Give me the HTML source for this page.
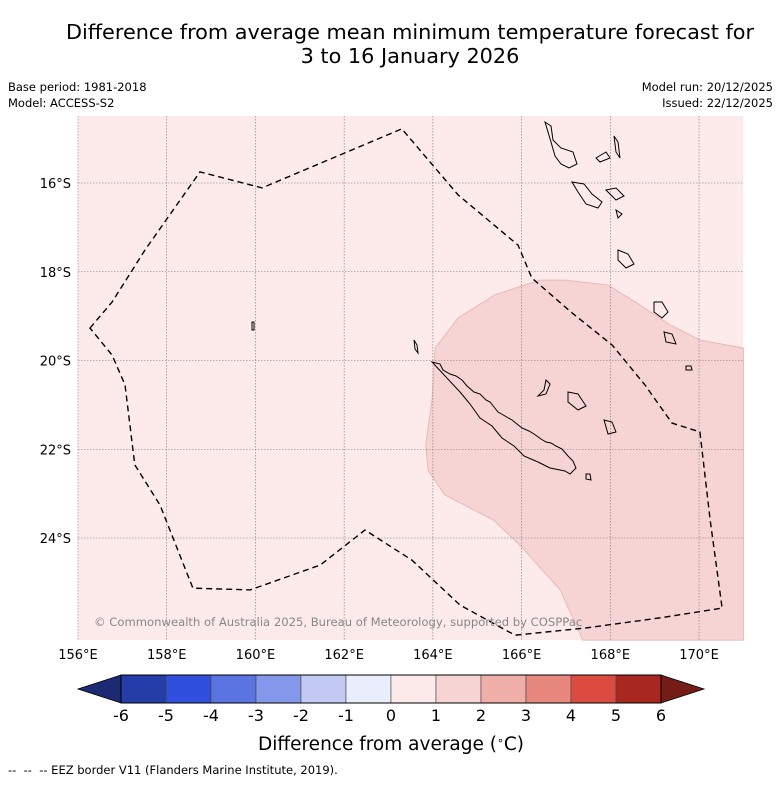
<!DOCTYPE html>
<html><head><meta charset="utf-8"><style>
body{margin:0;background:#fff;font-family:"Liberation Sans","DejaVu Sans",sans-serif}
svg text{font-family:"DejaVu Sans","Liberation Sans",sans-serif}
</style></head><body>
<svg id="c" width="781" height="781" viewBox="0 0 781 781">
<text x="410" y="39" font-size="20.8" text-anchor="middle">Difference from average mean minimum temperature forecast for</text>
<text x="410" y="63" font-size="20.8" text-anchor="middle">3 to 16 January 2026</text>
<text x="8" y="91" font-size="11.5">Base period: 1981-2018</text>
<text x="8" y="107" font-size="11.5">Model: ACCESS-S2</text>
<text x="773" y="91" font-size="11.5" text-anchor="end">Model run: 20/12/2025</text>
<text x="773" y="107" font-size="11.5" text-anchor="end">Issued: 22/12/2025</text>
<g id="map"></g>
<g id="cb"></g>
<text x="391" y="750" font-size="18.5" text-anchor="middle">Difference from average (<tspan baseline-shift="super" font-size="11">∘</tspan>C)</text>
<text x="8" y="774" font-size="11.5" xml:space="preserve" style="white-space:pre">--  --  -- EEZ border V11 (Flanders Marine Institute, 2019).</text>
</svg>
<script>
const lonTicks=[156,158,160,162,164,166,168,170];
const latTicks=[16,18,20,22,24];
const levels=[-6,-5,-4,-3,-2,-1,0,1,2,3,4,5,6];
const levelColors=["#253da8","#2f4fdc","#5a75e2","#8398ea","#c2caf3","#eaedfb","#fcebea","#f6d4d4","#efaea8","#e8877e","#dc4b40","#a8281f"];
const eezLon=[156.27,156.77,157.51,158.75,160.15,163.30,164.57,165.92,166.23,167.14,168.04,168.78,169.39,170.02,170.25,170.52,169.12,167.43,165.85,164.61,163.53,162.47,161.46,159.88,158.59,157.85,157.28,157.06,156.77];
const eezLat=[19.27,18.68,17.51,15.75,16.11,14.78,16.27,17.40,18.14,18.93,19.65,20.55,21.41,21.61,23.59,25.58,25.80,26.03,26.19,25.51,24.50,23.82,24.61,25.17,25.13,23.26,22.35,20.55,19.88];
const patchLon=[164.05,164.57,165.40,166.41,166.98,167.95,168.67,169.35,170.02,171,171,167.38,166.87,165.96,165.36,164.27,163.89,163.84,163.98];
const patchLat=[19.72,19.04,18.52,18.19,18.19,18.30,18.75,19.20,19.54,19.72,26.3,26.3,25.17,24.16,23.59,23.03,22.47,21.90,20.89];
const X0=78,X1=743,Y0=116,Y1=640;
const xs=l=>78+(l-156)*44.36, ys=l=>183+(l-16)*44.375;
const NS="http://www.w3.org/2000/svg";
function mk(t,a,p){const e=document.createElementNS(NS,t);for(const k in a)e.setAttribute(k,a[k]);p.appendChild(e);return e;}
const map=document.getElementById('map');
let r=mk('rect',{x:X0,y:Y0,width:X1-X0,height:Y1-Y0,fill:levelColors[6]},map);


let pp=mk('polygon',{points:patchLon.map((l,i)=>xs(l)+','+ys(patchLat[i])).join(' '),fill:levelColors[7],stroke:'#eab8b8','stroke-width':1},map);


lonTicks.forEach(l=>{const x=xs(l);
 let g=mk('line',{x1:x,x2:x,y1:Y0,y2:Y1,stroke:'#777','stroke-width':0.6,'stroke-dasharray':'1.5,1.5'},map);
 
 
 let t=mk('text',{x:x,y:659,'font-size':13,'text-anchor':'middle'},map);t.textContent=l+'°E';
 
 });
latTicks.forEach(l=>{const y=ys(l);
 let g=mk('line',{x1:X0,x2:X1,y1:y,y2:y,stroke:'#777','stroke-width':0.6,'stroke-dasharray':'1.5,1.5'},map);
 
 
 let t=mk('text',{x:71,y:y+5,'font-size':13,'text-anchor':'end'},map);t.textContent=l+'°S';
 
 });
const land=["M432,362 l8,2 l3,6 l7,4 l6,2 l6,4 l5,6 l7,6 l6,2 l6,6 l4,2 l4,5 l4,5 l7,4 l7,4 l5,4 l5,4 l7,3 l5,3 l7,5 l5,3 l5,1 l5,3 l6,3 l6,7 l5,5 l3,7 l-6,6 l-5,-3 l-5,-1 l-5,-1 l-5,-1 l-6,-3 l-6,-3 l-7,-3 l-7,-3 l-5,-5 l-5,-5 l-6,-4 l-6,-4 l-5,-6 l-5,-6 l-6,-4 l-6,-4 l-5,-7 l-5,-7 l-5,-6 l-5,-6 z",
"M414,340 l3,5 l1,8 l-3,-4 z","M545,122 l6,4 l2,14 l8,8 l12,4 l4,12 l-8,4 l-8,-4 l-6,-8 l-4,-14 z","M596,158 l10,-6 l4,6 l-10,4 z",
"M614,136 l4,6 l2,16 l-4,-6 z","M572,182 l12,2 l8,10 l10,8 l-4,6 l-12,-4 l-8,-12 z","M606,190 l10,-2 l8,8 l-8,4 z",
"M616,210 l6,4 l-4,4 z","M618,250 l10,4 l6,10 l-8,4 l-8,-8 z","M654,302 l8,0 l6,10 l-6,6 l-8,-6 z","M664,332 l8,2 l4,10 l-10,-2 z",
"M546,380 l4,4 l-4,10 l-8,2 l6,-6 z","M568,392 l10,2 l8,12 l-8,4 l-10,-8 z","M604,420 l8,2 l4,10 l-8,2 z","M586,474 l4,0 l1,6 l-5,-1 z","M686,366 l5,0 l1,4 l-6,0 z","M252,322 l2,0 l0,8 l-2,0 z"];
land.forEach(d=>{let p=mk('path',{d:d,fill:'none',stroke:'#000','stroke-width':1},map);
 
 });
let ez=mk('polygon',{points:eezLon.map((l,i)=>xs(l)+','+ys(eezLat[i])).join(' '),fill:'none',stroke:'#000','stroke-width':1.4,'stroke-dasharray':'6,4'},map);


let cp=mk('text',{x:94,y:626,'font-size':11.6,fill:'#888'},map);cp.textContent='© Commonwealth of Australia 2025, Bureau of Meteorology, supported by COSPPac';


// colorbar
const cb=document.getElementById('cb');
const CB0=121,CB1=661,CT=675,CBt=703;
const cx=v=>CB0+(v-levels[0])/(levels[levels.length-1]-levels[0])*(CB1-CB0);
let lt=mk('polygon',{points:`${CB0},${CT} ${CB0},${CBt} 78,689`,fill:'#1c2a74',stroke:'#000','stroke-width':0.8},cb);


let rt=mk('polygon',{points:`${CB1},${CT} ${CB1},${CBt} 704,689`,fill:'#751c16',stroke:'#000','stroke-width':0.8},cb);


levelColors.forEach((c,i)=>{let s=mk('rect',{x:cx(levels[i]),y:CT,width:cx(levels[i+1])-cx(levels[i]),height:CBt-CT,fill:c,stroke:'#444','stroke-width':0.6},cb);
 
 });
mk('rect',{x:CB0,y:CT,width:CB1-CB0,height:CBt-CT,fill:'none',stroke:'#000','stroke-width':1},cb);
levels.forEach(v=>{let t=mk('text',{x:cx(v),y:721,'font-size':16,'text-anchor':'middle'},cb);t.textContent=v;
 
 });
</script>
</body></html>
